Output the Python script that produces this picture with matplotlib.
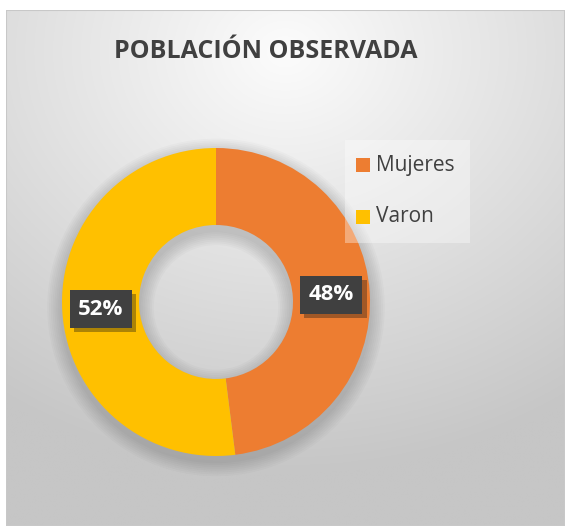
import numpy as np
import matplotlib
matplotlib.use("Agg")
import matplotlib.pyplot as plt
import matplotlib.patheffects as pe
from matplotlib.patches import Rectangle, Wedge

labels = ["Mujeres", "Varon"]
values = [48, 52]
colors = ["#ED7D31", "#FFC000"]
title = "POBLACIÓN OBSERVADA"

W, H = 565, 526
fig = plt.figure(figsize=(W / 100, H / 100), dpi=100)
fig.patch.set_facecolor("white")

# background panel with a soft radial gradient
bg = fig.add_axes([6 / W, 0, (W - 6) / W, (H - 10) / H])
yy, xx = np.mgrid[0:1:400j, 0:1:400j]
d = np.sqrt(((xx - 0.5) * 1.0) ** 2 + ((yy - 0.08) * 1.1) ** 2)
shade = np.clip(252 - 60 * d, 198, 252) / 255
bg.imshow(np.dstack([shade, shade, shade]), extent=[0, 1, 0, 1], origin="upper", aspect="auto")
bg.add_patch(Rectangle((0, 0), 1, 1, transform=bg.transAxes, fill=False, ec="#C8C8C8", lw=1.5))
bg.set_axis_off()

fig.text(266 / W, 1 - 52 / H, title, ha="center", va="center", fontsize=18,
         fontweight="bold", color="#404040", family="Open Sans")

# donut
cx, cy, r = 216, 302, 154
ax = fig.add_axes([(cx - r) / W, (H - cy - r) / H, 2 * r / W, 2 * r / H])
for k in range(8):
    ax.add_patch(Wedge((0, -0.035), 1.0 + 0.012 * (8 - k), 0, 360, width=0.5 + 0.024 * (8 - k),
                       color="black", alpha=0.02, lw=0, zorder=0, clip_on=False))
wedges, _ = ax.pie(values, colors=colors, startangle=90, counterclock=False,
                   radius=1, wedgeprops=dict(width=0.5, linewidth=0))
ax.set_xlim(-1, 1)
ax.set_ylim(-1, 1)
ax.set_aspect("equal")
ax.set_axis_off()

start = 90
for v in values:
    mid = np.deg2rad(start - v / 100 * 360 / 2)
    start -= v / 100 * 360
    x, y = 0.75 * np.cos(mid), 0.75 * np.sin(mid)
    t = ax.text(x, y, f"{v}%", ha="center", va="center", fontsize=16, fontweight="bold",
                color="white", family="Open Sans",
                bbox=dict(boxstyle="square,pad=0.38", fc="#404040", ec="none"))
    t.get_bbox_patch().set_path_effects([pe.withSimplePatchShadow(offset=(3, -3), alpha=0.35),
                                         pe.Normal()])

# legend
fig.patches.append(Rectangle((345 / W, 1 - 243 / H), 125 / W, 103 / H, transform=fig.transFigure,
                             fc="white", alpha=0.35, ec="none"))
for lab, col, ypix in zip(labels, colors, [165, 217]):
    fig.patches.append(Rectangle((356 / W, 1 - (ypix + 7) / H), 14 / W, 14 / H,
                                 transform=fig.transFigure, fc=col, ec="none"))
    fig.text(376 / W, 1 - ypix / H, lab, ha="left", va="center", fontsize=15,
             color="#404040", family="Open Sans")

fig.savefig("out.png", dpi=100)
